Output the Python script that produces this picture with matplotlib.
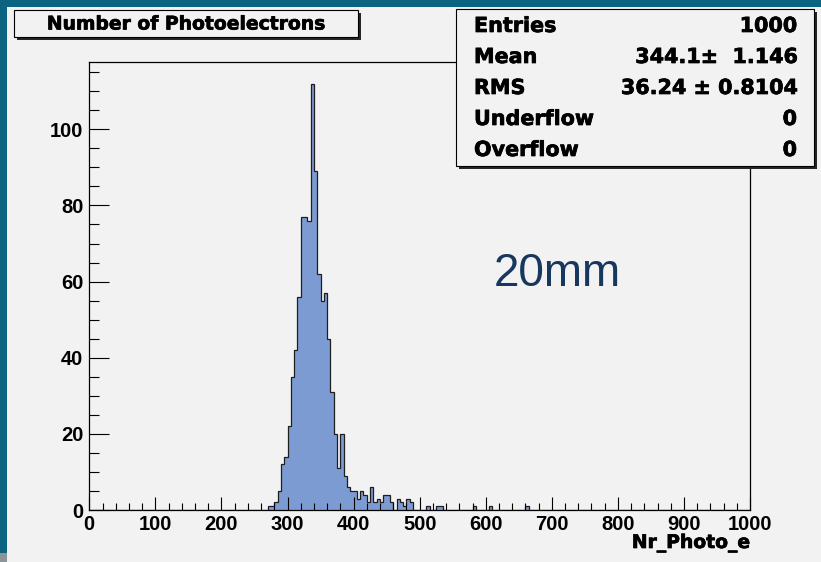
import numpy as np
import matplotlib.pyplot as plt
from matplotlib.patches import Rectangle
import matplotlib.patheffects as pe

# histogram: 200 bins of width 5 on [0, 1000], only non-empty bins listed
bin_lo = [270, 275, 280, 285, 290, 295, 300, 305, 310, 315,
          320, 325, 330, 335, 340, 345, 350, 355, 360, 365,
          370, 375, 380, 385, 390, 395, 400, 405, 410, 415,
          420, 425, 430, 435, 440, 445, 450, 455, 465, 470,
          475, 480, 485, 510, 525, 530, 580, 605, 660]
counts = [1, 1, 2, 5, 12, 14, 22, 35, 42, 56,
          77, 77, 76, 112, 89, 62, 55, 57, 45, 31,
          20, 11, 20, 9, 6, 5, 5, 3, 5, 4,
          2, 6, 2, 3, 2, 4, 4, 2, 3, 2,
          1, 3, 2, 1, 1, 1, 1, 1, 1]

stat_names = ['Entries', 'Mean', 'RMS', 'Underflow', 'Overflow']
stat_values = ['1000', '344.1\u00b1  1.146', '36.24 \u00b1 0.8104', '0', '0']
title = 'Number of Photoelectrons'
xlabel = 'Nr_Photo_e'
note = '20mm'

teal = '#0b6380'
canvas = '#f2f2f2'
fill = '#7d9bd3'

edges = np.arange(0, 1005, 5)
hist = np.zeros(len(edges) - 1)
for lo, c in zip(bin_lo, counts):
    hist[lo // 5] = c

W, H = 821, 562
fig = plt.figure(figsize=(W / 100, H / 100), dpi=100, facecolor=teal)

# background canvas in pixel coords
bg = fig.add_axes([0, 0, 1, 1])
bg.set_xlim(0, W)
bg.set_ylim(H, 0)
bg.axis('off')
bg.add_patch(Rectangle((7, 7), W - 7, H - 7, fc=canvas, ec='none'))
bg.add_patch(Rectangle((0, 553), 7, 9, fc='#8a9499', ec='none'))

# main plot
x0, x1, y0, y1 = 89.3, 750, 62.3, 510
ax = fig.add_axes([x0 / W, 1 - y1 / H, (x1 - x0) / W, (y1 - y0) / H])
ax.set_facecolor(canvas)
ax.stairs(hist, edges, fill=True, facecolor=fill, edgecolor='none')
ax.stairs(hist, edges, color='#1e1e1e', lw=0.9)
ax.set_xlim(0, 1000)
ax.set_ylim(0, 117.6)
for s in ax.spines.values():
    s.set_linewidth(0.9)
    s.set_color('black')

ax.set_xticks(np.arange(0, 1001, 100))
ax.set_xticks(np.arange(0, 1001, 20), minor=True)
ax.set_yticks(np.arange(0, 101, 20))
ax.set_yticks(np.arange(0, 116, 5), minor=True)
ax.tick_params(axis='x', which='major', direction='in', length=9.6, width=0.8, pad=3.5)
ax.tick_params(axis='x', which='minor', direction='in', length=4.8, width=0.8)
ax.tick_params(axis='y', which='major', direction='in', length=14.3, width=0.8, pad=4.3)
ax.tick_params(axis='y', which='minor', direction='in', length=7.1, width=0.8)
for lbl in ax.get_xticklabels() + ax.get_yticklabels():
    lbl.set_family('Liberation Sans')
    lbl.set_weight('bold')
    lbl.set_fontsize(14.5)

# overlay for boxes and text, pixel coords
ov = fig.add_axes([0, 0, 1, 1], zorder=5)
ov.set_xlim(0, W)
ov.set_ylim(H, 0)
ov.axis('off')

heavy = [pe.withStroke(linewidth=0.5, foreground='black')]

def shadow_box(x, y, w, h):
    ov.add_patch(Rectangle((x + 3, y + 3), w, h, fc='#262626', ec='none'))
    ov.add_patch(Rectangle((x, y), w, h, fc=canvas, ec='black', lw=0.8))

shadow_box(14, 10, 344, 27)
ov.text(186, 24, title, ha='center', va='center', family='DejaVu Sans',
        weight='bold', fontsize=13.5, path_effects=heavy)

shadow_box(456, 9, 358, 157)
for i, (name, val) in enumerate(zip(stat_names, stat_values)):
    yy = 26 + i * 31
    ov.text(474, yy, name, ha='left', va='center', family='DejaVu Sans',
            weight='bold', fontsize=14.9, path_effects=heavy)
    ov.text(797, yy, val, ha='right', va='center', family='DejaVu Sans',
            weight='bold', fontsize=14.9, path_effects=heavy)

ov.text(750, 543, xlabel, ha='right', va='center', family='DejaVu Sans',
        weight='bold', fontsize=13.5, path_effects=heavy)
ov.text(557, 274, note, ha='center', va='center', family='Liberation Sans',
        fontsize=33, color='#17375e')

fig.savefig('out.png', dpi=100, facecolor=teal)
